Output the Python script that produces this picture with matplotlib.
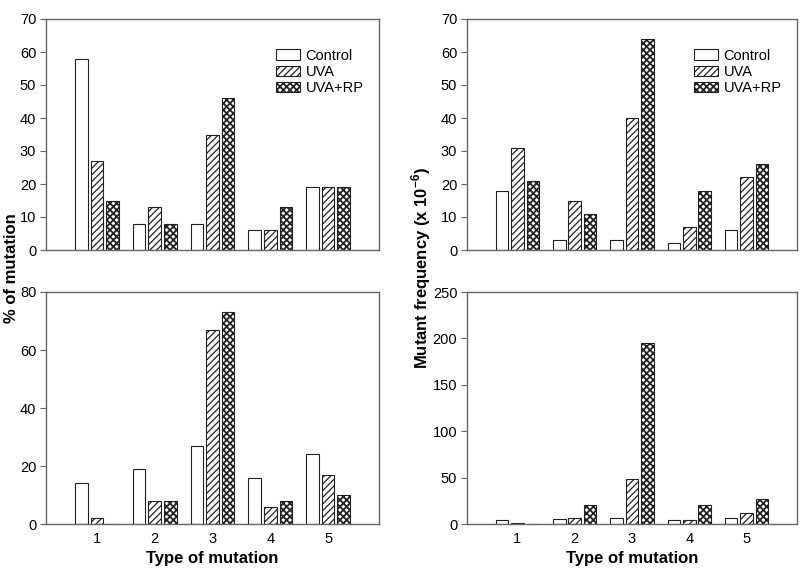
"""
Mutation spectrum bar panels.
"""

import numpy as np
import matplotlib
matplotlib.use("Agg")
import matplotlib.pyplot as plt

plt.rcParams["font.family"] = ["Liberation Sans", "DejaVu Sans"]
plt.rcParams["hatch.linewidth"] = 0.9

types = [1, 2, 3, 4, 5]
series_names = ["Control", "UVA", "UVA+RP"]

pct_top_control = [58, 8, 8, 6, 19]
pct_top_uva = [27, 13, 35, 6, 19]
pct_top_rp = [15, 8, 46, 13, 19]

freq_top_control = [18, 3, 3, 2, 6]
freq_top_uva = [31, 15, 40, 7, 22]
freq_top_rp = [21, 11, 64, 18, 26]

pct_bot_control = [14, 19, 27, 16, 24]
pct_bot_uva = [2, 8, 67, 6, 17]
pct_bot_rp = [0, 8, 73, 8, 10]

freq_bot_control = [4, 5, 7, 4, 6]
freq_bot_uva = [1, 6, 48, 4, 12]
freq_bot_rp = [0, 21, 195, 21, 27]

hatches = [None, "/////", "xxxxx"]
hatch_widths = [0.9, 0.9, 1.3]
edge = "#222222"
spine_color = "#666666"


def draw_panel(ax, values, ylim, yticks, show_x, legend):
    x = np.array(types, dtype=float)
    width = 0.22
    offsets = [-0.27, 0.0, 0.27]
    for vals, off, hatch, hw, name in zip(values, offsets, hatches,
                                          hatch_widths, series_names):
        bars = ax.bar(
            x + off, vals, width=width, color="white", edgecolor=edge,
            linewidth=0.8, hatch=hatch, label=name
        )
        for b in bars:
            try:
                b.set_hatch_linewidth(hw)
            except AttributeError:
                pass
    ax.set_xlim(0.12, 5.88)
    ax.set_ylim(*ylim)
    ax.set_yticks(yticks)
    ax.tick_params(axis="y", direction="out", length=4, width=0.8,
                   color=spine_color, labelsize=10.5, pad=3)
    if show_x:
        ax.set_xticks(types)
        ax.tick_params(axis="x", length=0, labelsize=10.5, pad=6)
    else:
        ax.set_xticks([])
    for sp in ax.spines.values():
        sp.set_color(spine_color)
        sp.set_linewidth(1.0)
    if legend:
        leg = ax.legend(
            loc="upper right", bbox_to_anchor=(0.98, 0.91), frameon=False,
            fontsize=10.5, handlelength=1.6, handleheight=0.7,
            handletextpad=0.4, labelspacing=0.15, borderaxespad=0.2
        )
        for patch, hw in zip(leg.get_patches(), hatch_widths):
            try:
                patch.set_hatch_linewidth(hw)
            except AttributeError:
                pass


fig = plt.figure(figsize=(8, 5.68), dpi=100)
W, H = 800, 568


def add_axes(left, top, right, bottom):
    return fig.add_axes([left / W, 1 - bottom / H, (right - left) / W, (bottom - top) / H])


ax_tl = add_axes(46, 19, 379, 250)
ax_tr = add_axes(467, 19, 797, 250)
ax_bl = add_axes(46, 292, 379, 524)
ax_br = add_axes(467, 292, 797, 524)

draw_panel(ax_tl, [pct_top_control, pct_top_uva, pct_top_rp],
           (0, 70), range(0, 71, 10), False, True)
draw_panel(ax_tr, [freq_top_control, freq_top_uva, freq_top_rp],
           (0, 70), range(0, 71, 10), False, True)
draw_panel(ax_bl, [pct_bot_control, pct_bot_uva, pct_bot_rp],
           (0, 80), range(0, 81, 20), True, False)
draw_panel(ax_br, [freq_bot_control, freq_bot_uva, freq_bot_rp],
           (0, 250), range(0, 251, 50), True, False)

fig.text(12 / W, 1 - 268 / H, "% of mutation", rotation=90, ha="center",
         va="center", fontsize=12, fontweight="bold")
fig.text(421 / W, 1 - 268 / H, "Mutant frequency (x 10$^{\\mathregular{-6}}$)",
         rotation=90, ha="center", va="center", fontsize=12, fontweight="bold")
fig.text(212 / W, 1 - 559 / H, "Type of mutation", ha="center", va="center",
         fontsize=12, fontweight="bold")
fig.text(632 / W, 1 - 559 / H, "Type of mutation", ha="center", va="center",
         fontsize=12, fontweight="bold")

fig.savefig("out.png", dpi=100)
plt.close(fig)
